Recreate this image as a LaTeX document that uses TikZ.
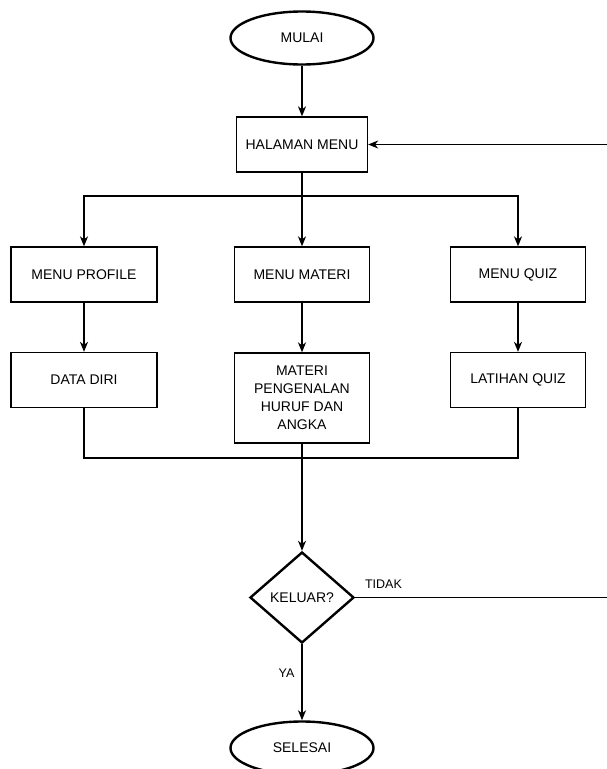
\documentclass[tikz,border=0pt]{standalone}
\usepackage{fontspec}
\setmainfont{Liberation Sans}
\usetikzlibrary{arrows.meta,shapes.geometric,positioning,calc}

\begin{document}
\begin{tikzpicture}[
    x=1pt, y=-1pt,
    box/.style={draw, line width=1.3pt, minimum width=135pt, minimum height=55pt, inner sep=2pt, align=center, font=\fontsize{14}{18}\selectfont},
    term/.style={draw, ellipse, line width=2.4pt, minimum width=143pt, minimum height=53pt, inner sep=0pt, font=\fontsize{14}{18}\selectfont},
    decision/.style={draw, diamond, line width=2.4pt, minimum width=104pt, minimum height=91pt, inner sep=0pt, font=\fontsize{14}{18}\selectfont},
    lbl/.style={font=\fontsize{12.5}{15}\selectfont, inner sep=2pt},
    arr/.style={-{Stealth[length=10pt, width=8pt, inset=3pt]}, line width=1.3pt}
]
\useasboundingbox (0,0) rectangle (607,769);

\node[term] (mulai) at (302,38) {MULAI};
\node[box, minimum width=131pt] (menu) at (302,144.5) {HALAMAN MENU};

\node[box, minimum width=146pt] (profile) at (84,274.5) {MENU PROFILE};
\node[box] (materi) at (302,274.5) {MENU MATERI};
\node[box] (quiz) at (518,274.5) {MENU QUIZ};

\node[box, minimum width=146pt] (diri) at (84,380) {DATA DIRI};
\node[box, minimum height=90pt] (isi) at (302,398) {MATERI\\PENGENALAN\\HURUF DAN\\ANGKA};
\node[box] (latihan) at (518,380) {LATIHAN QUIZ};

\node[decision] (keluar) at (302,597.5) {KELUAR?};
\node[term] (selesai) at (302,748) {SELESAI};

\coordinate (split) at (302,196);
\coordinate (merge) at (302,458);
\coordinate (back) at (612,597.5);

\draw[arr] (mulai) -- (menu);
\draw[line width=1.3pt] (menu) -- (split);
\draw[arr] (split) -| (profile);
\draw[arr] (split) -- (materi);
\draw[arr] (split) -| (quiz);

\draw[arr] (profile) -- (diri);
\draw[arr] (materi) -- (isi);
\draw[arr] (quiz) -- (latihan);

\draw[line width=1.3pt] (diri) |- (merge);
\draw[line width=1.3pt] (latihan) |- (merge);
\draw[arr] (isi) -- (keluar);

\draw[arr] (keluar) -- node[lbl, left=5pt, pos=0.38] {YA} (selesai);
\draw[arr] (keluar.east) -- node[lbl, above=6pt, pos=0.11] {TIDAK} (back) |- (menu.east);
\end{tikzpicture}
\end{document}
